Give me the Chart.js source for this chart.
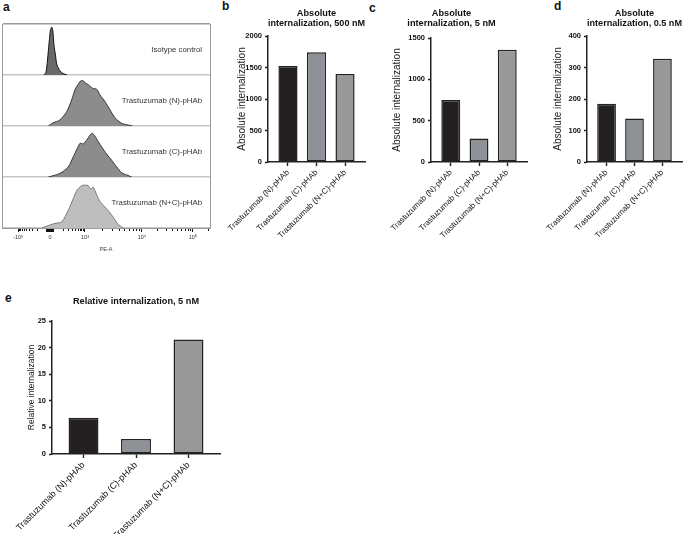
<!DOCTYPE html>
<html>
<head>
<meta charset="utf-8">
<script src="https://cdn.jsdelivr.net/npm/chart.js@4.4.1/dist/chart.umd.min.js"></script>
<style>
  body { margin: 0; background: #fff; width: 683px; height: 534px; position: relative; overflow: hidden;
         font-family: "Liberation Sans", Arial, sans-serif; }
  canvas { position: absolute; }
  .letter { position: absolute; font-weight: bold; font-size: 12px; line-height: 1; color: #111; }
  .rowlabel { position: absolute; font-size: 7.8px; line-height: 10px; color: #333; white-space: nowrap; text-align: right; }
</style>
</head>
<body>
<div class="letter" style="left:3px;top:1px">a</div>
<div class="letter" style="left:222px;top:0px">b</div>
<div class="letter" style="left:369px;top:2px">c</div>
<div class="letter" style="left:554px;top:0px">d</div>
<div class="letter" style="left:5px;top:292px">e</div>

<canvas id="histo" width="215" height="240" style="left:0;top:20px"></canvas>
<canvas id="cb" width="150" height="255" style="left:218px;top:0"></canvas>
<canvas id="cc" width="154" height="255" style="left:376px;top:0"></canvas>
<canvas id="cd" width="146" height="255" style="left:537px;top:0"></canvas>
<canvas id="ce" width="212" height="244" style="left:12px;top:290px"></canvas>

<script>
// ---- panel a: PE-A histograms (x in display channels 0-1000) ----
const rowLabels = ['Isotype control', 'Trastuzumab (N)-pHAb', 'Trastuzumab (C)-pHAb', 'Trastuzumab (N+C)-pHAb'];

const isoChannel = [202, 212, 221, 228, 233, 239, 244, 250, 257, 264, 279, 293, 313];
const isoCount   = [0, 6, 39, 70, 88, 94, 88, 58, 39, 20, 8, 3, 0];

const nChannel = [223, 245, 279, 311, 335, 351, 365, 377, 388, 399, 415, 436, 455, 471, 495, 519, 543, 576, 606, 628];
const nCount   = [0, 6, 12, 28, 51, 71, 81, 88, 89, 85, 81, 74, 72, 61, 48, 32, 16, 5, 2, 0];

const cChannel = [223, 279, 319, 343, 362, 375, 391, 410, 423, 434, 447, 463, 479, 503, 527, 551, 576, 600, 624];
const cCount   = [0, 7, 20, 40, 56, 66, 65, 74, 82, 86, 80, 69, 59, 45, 33, 20, 8, 4, 0];

const ncChannel = [192, 231, 255, 287, 319, 343, 362, 383, 399, 415, 426, 439, 455, 471, 495, 519, 543, 559, 582];
const ncCount   = [0, 6, 9, 12, 35, 58, 75, 83, 84, 83, 76, 80, 65, 52, 41, 30, 16, 7, 0];

const majorTickChannels = [77, 231, 399, 673, 918];
const majorTickLabels = ['-10³', '0', '10³', '10⁴', '10⁵'];

// ---- panels b-e ----
const categories = ['Trastuzumab (N)-pHAb', 'Trastuzumab (C)-pHAb', 'Trastuzumab (N+C)-pHAb'];
const abs500nM = [1523, 1741, 1395];
const abs5nM = [750, 284, 1358];
const abs05nM = [185, 138, 328];
const rel5nM = [6.8, 2.8, 21.5];
const barColors = ['#231f20', '#8e9196', '#989898'];

const FONT = '"Liberation Sans", Arial, sans-serif';

// minor ticks of the biexponential axis
function minorChannels() {
  const [cm, c0, c3, c4, c5] = majorTickChannels;
  const w = 149;
  const out = [];
  for (let k = 2; k <= 9; k++) {
    const p = c3 - (1 - Math.log10(k)) * w;
    out.push(p);
    out.push(c0 - (p - c0) * (c0 - cm) / (c3 - c0));
    out.push(c3 + Math.log10(k) * (c4 - c3));
    out.push(c4 + Math.log10(k) * (c5 - c4));
  }
  out.push(c5 + Math.log10(2) * (c5 - c4));
  return out;
}
const zeroTicks = [];
for (let j = -9; j <= 9; j++) if (j !== 0) zeroTicks.push(majorTickChannels[1] + j * 2);

const xTicks = [...majorTickChannels, ...minorChannels(), ...zeroTicks, 1000].sort((a, b) => a - b);

const rows = [
  { id: 'yIso', x: isoChannel, y: isoCount, fill: '#6a6a6a', line: '#111111' },
  { id: 'yN', x: nChannel, y: nCount, fill: '#8c8c8c', line: '#333333' },
  { id: 'yC', x: cChannel, y: cCount, fill: '#8c8c8c', line: '#333333' },
  { id: 'yNC', x: ncChannel, y: ncCount, fill: '#bebebe', line: '#777777' }
];

const histoScales = {
  x: {
    type: 'linear', min: 0, max: 1000,
    afterBuildTicks: s => { s.ticks = xTicks.map(v => ({ value: v })); },
    afterFit: s => { s.height = 32; },
    ticks: {
      autoSkip: false, maxRotation: 0, minRotation: 0, padding: 2, color: '#333',
      font: { family: FONT, size: 5.5 },
      callback: v => { const i = majorTickChannels.indexOf(v); return i >= 0 ? majorTickLabels[i] : ''; }
    },
    grid: {
      drawOnChartArea: true, tickLength: 4,
      color: c => c.tick && c.tick.value === 1000 ? '#9a9a9a' : 'rgba(0,0,0,0)',
      tickColor: c => c.tick && c.tick.value === 1000 ? 'rgba(0,0,0,0)' : '#111',
      tickWidth: 1,
      tickBorderDash: c => (majorTickChannels.includes(c.tick.value) || zeroTicks.includes(c.tick.value)) ? [] : [2, 8]
    },
    border: { color: '#9a9a9a', width: 1 },
    title: { display: true, text: 'PE-A', color: '#444', font: { family: FONT, size: 5.5 }, padding: { top: 0, bottom: 7 } }
  }
};
// bottom row defined first: last defined left box is laid out at the top
[...rows].reverse().forEach(r => {
  histoScales[r.id] = {
    type: 'linear', position: 'left', stack: 'rows', stackWeight: 1, offset: false,
    min: 0, max: 100,
    afterBuildTicks: s => { s.ticks = [{ value: 0 }, { value: 100 }]; },
    ticks: { display: false },
    grid: {
      drawTicks: false, lineWidth: 1.5,
      color: c => c.tick.value === 0 ? '#c6c6c6' : (r.id === 'yIso' ? '#9a9a9a' : 'rgba(0,0,0,0)')
    },
    border: { display: true, color: '#9a9a9a', width: 1 }
  };
});

const histo = new Chart(document.getElementById('histo'), {
  type: 'line',
  data: {
    datasets: rows.map(r => ({
      data: r.x.map((x, i) => ({ x: x, y: r.y[i] })),
      yAxisID: r.id,
      fill: 'origin',
      backgroundColor: r.fill,
      borderColor: r.line,
      borderWidth: 1,
      pointRadius: 0,
      tension: 0.25
    }))
  },
  options: {
    responsive: false, animation: false, devicePixelRatio: 1,
    layout: { padding: { top: 4, right: 5, bottom: 0, left: 2 } },
    plugins: { legend: { display: false }, tooltip: { enabled: false } },
    scales: histoScales
  }
});

// row labels as page text
const histoTop = 20;
rows.forEach((r, i) => {
  const sc = histo.scales[r.id];
  const d = document.createElement('div');
  d.className = 'rowlabel';
  d.textContent = rowLabels[i];
  d.style.right = (683 - (histo.chartArea.right - 8)) + 'px';
  d.style.top = (histoTop + sc.getPixelForValue(50) - 5) + 'px';
  document.body.appendChild(d);
});

// ---- bar panels ----
function barPanel(id, values, yMax, yStep, title, yTitle, p) {
  return new Chart(document.getElementById(id), {
    type: 'bar',
    data: {
      datasets: [{
        data: values.map((v, i) => ({ x: i, y: v })),
        backgroundColor: barColors,
        borderColor: '#222',
        borderWidth: 1.5,
        borderSkipped: false,
        barPercentage: p.barFrac,
        categoryPercentage: 1
      }]
    },
    options: {
      responsive: false, animation: false, devicePixelRatio: 1,
      layout: { padding: { top: 0, right: p.padRight, bottom: 0, left: 0 } },
      plugins: {
        legend: { display: false }, tooltip: { enabled: false },
        title: {
          display: true, text: title, fullSize: p.titleFull, color: '#111',
          font: { family: FONT, size: 9.2, weight: 'bold', lineHeight: 10 / 9.2 },
          padding: { top: p.titleTop, bottom: p.titleBottom }
        }
      },
      scales: {
        x: {
          type: 'linear', min: p.xMin, max: p.xMax, offset: false,
          afterBuildTicks: s => { s.ticks = categories.map((c, i) => ({ value: i })); },
          // labels may run under the y axis, as in the figure
          afterFit: s => { s.height = p.xHeight; s.paddingLeft = 0; s.paddingRight = 0; },
          ticks: {
            autoSkip: false, minRotation: 45, maxRotation: 45, padding: 2, color: '#111',
            font: { family: FONT, size: p.labelSize },
            callback: v => categories[v]
          },
          grid: { display: true, offset: false, drawOnChartArea: false, tickLength: 4, tickColor: '#222', tickWidth: 1.4 },
          border: { color: '#222', width: 1.5 }
        },
        y: {
          min: 0, max: yMax,
          afterFit: s => { s.width = p.yWidth; },
          ticks: {
            stepSize: yStep, padding: 3, color: '#111',
            font: { family: FONT, size: p.tickSize, weight: 'bold' },
            callback: v => String(v)
          },
          grid: { drawOnChartArea: false, tickLength: 3, tickColor: '#222', tickWidth: 1.4 },
          border: { color: '#222', width: 1.5 },
          title: {
            display: true, text: yTitle, color: '#1a1a1a',
            font: { family: FONT, size: p.yTitleSize }, padding: { top: p.yTitlePad, bottom: 0 }
          }
        }
      }
    }
  });
}

const absSpec = { xHeight: 93, xMin: -0.7, xMax: 2.7, barFrac: 0.67, labelSize: 8, yTitleSize: 10, tickSize: 7.5, titleFull: false };

barPanel('cb', abs500nM, 2000, 500, ['Absolute', 'internalization, 500 nM'], 'Absolute internalization',
  Object.assign({}, absSpec, { yWidth: 50, padRight: 3, titleTop: 8, titleBottom: 8, yTitlePad: 18 }));
barPanel('cc', abs5nM, 1500, 500, ['Absolute', 'internalization, 5 nM'], 'Absolute internalization',
  Object.assign({}, absSpec, { yWidth: 55, padRight: 3, titleTop: 8, titleBottom: 10, yTitlePad: 15, titleFull: true }));
barPanel('cd', abs05nM, 400, 100, ['Absolute', 'internalization, 0.5 nM'], 'Absolute internalization',
  Object.assign({}, absSpec, { yWidth: 50, padRight: 1, titleTop: 8, titleBottom: 8, yTitlePad: 15 }));
barPanel('ce', rel5nM, 25, 5, 'Relative internalization, 5 nM', 'Relative internalization',
  { yWidth: 40, xHeight: 80, xMin: -0.6, xMax: 2.6, barFrac: 0.57, labelSize: 9, yTitleSize: 8.5, tickSize: 7.5,
    padRight: 4, titleTop: 6, titleBottom: 15, yTitlePad: 14.6, titleFull: false });
</script>
</body>
</html>
